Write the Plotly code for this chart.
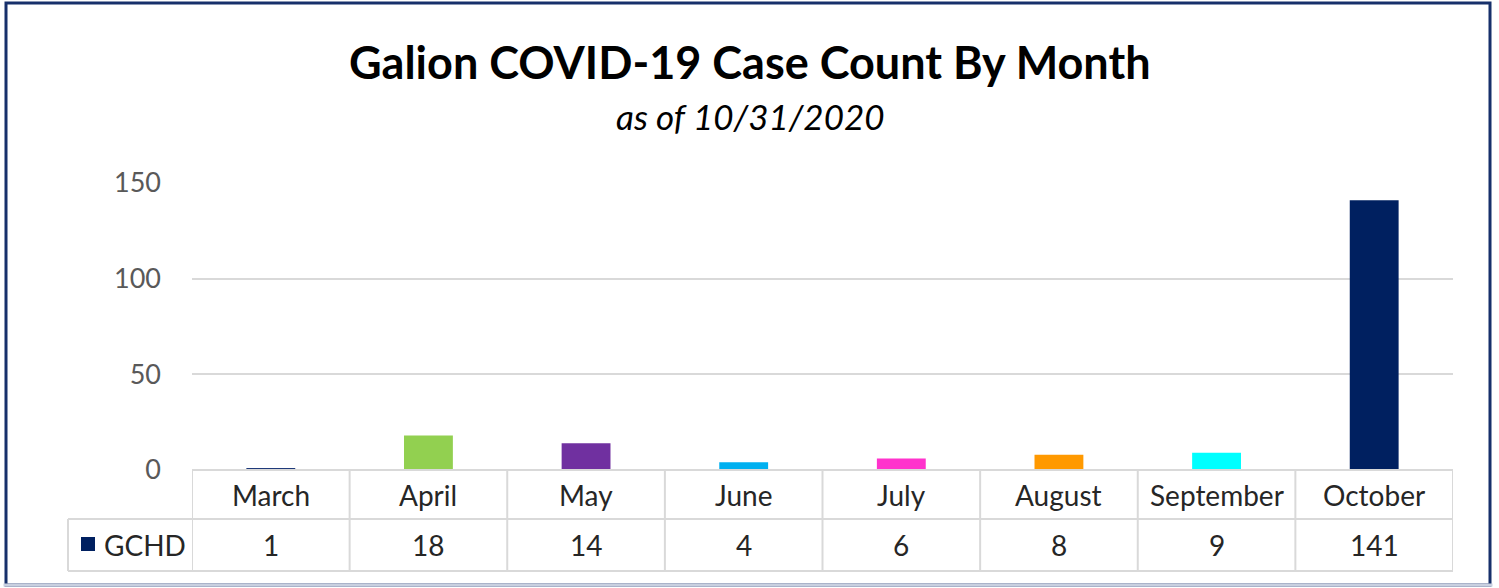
import plotly.graph_objects as go

months = ["March", "April", "May", "June", "July", "August", "September", "October"]
cases = [1, 18, 14, 4, 6, 8, 9, 141]
bar_colors = ["#1F3A7A", "#92D050", "#7030A0", "#00B0F0", "#FF33CC", "#FF9900", "#00FFFF", "#002060"]
y_ticks = [0, 50, 100, 150]
series_name = "GCHD"

FONT = "Lato, 'Open Sans', sans-serif"
GRID = "#d9d9d9"
TEXT = "#262626"

# pixel layout helpers (plot area in the 1499x588 page)
W, H = 1499, 588
L, R, T, B = 192, 46, 183, 118
pw, ph = W - L - R, H - T - B


def px_x(x):
    return (x - L) / pw


def px_y(y):
    return (H - B - y) / ph


fig = go.Figure()
fig.add_trace(
    go.Bar(
        x=months,
        y=cases,
        marker=dict(color=bar_colors, line=dict(width=0)),
        width=0.31,
        showlegend=False,
        hovertemplate="%{x}: %{y}<extra></extra>",
    )
)

row1_y = px_y(495)
row2_y = px_y(545)
line1_y = px_y(519)
line2_y = px_y(571)
left_x = px_x(68)

shapes = []
# table grid
shapes.append(dict(type="line", xref="paper", yref="paper", x0=0, x1=1, y0=0, y1=0,
                   line=dict(color=GRID, width=2)))
for yy in (line1_y, line2_y):
    shapes.append(dict(type="line", xref="paper", yref="paper", x0=left_x, x1=1, y0=yy, y1=yy,
                       line=dict(color=GRID, width=2)))
shapes.append(dict(type="line", xref="paper", yref="paper", x0=left_x, x1=left_x, y0=line1_y, y1=line2_y,
                   line=dict(color=GRID, width=2)))
for i in range(len(months) + 1):
    shapes.append(dict(type="line", xref="x", yref="paper", x0=i - 0.5, x1=i - 0.5, y0=0, y1=line2_y,
                       line=dict(color=GRID, width=2)))

# legend key square
shapes.append(dict(type="rect", xref="paper", yref="paper", x0=px_x(81), x1=px_x(95),
                   y0=px_y(551), y1=px_y(537), fillcolor="#002060", line=dict(width=0)))

# outer frame
fx0, fx1 = px_x(6), px_x(1490)
fy0, fy1 = px_y(585), px_y(3)
shapes.append(dict(type="rect", xref="paper", yref="paper", x0=fx0, x1=fx1, y0=fy0, y1=fy1,
                   line=dict(color="#17306b", width=3), layer="below"))
shapes.append(dict(type="line", xref="paper", yref="paper", x0=fx0 - 0.002, x1=fx1 + 0.002, y0=fy0, y1=fy0,
                   line=dict(color="#c9d0e0", width=3)))

annotations = []
for m, v in zip(months, cases):
    annotations.append(dict(x=m, y=row1_y, xref="x", yref="paper", yanchor="middle", text=m,
                            showarrow=False, font=dict(family=FONT, size=28, color=TEXT)))
    annotations.append(dict(x=m, y=row2_y, xref="x", yref="paper", yanchor="middle", text=str(v),
                            showarrow=False, font=dict(family=FONT, size=28, color=TEXT)))
annotations.append(dict(x=px_x(102), y=row2_y, xref="paper", yref="paper", xanchor="left", yanchor="middle",
                        text=series_name, showarrow=False,
                        font=dict(family=FONT, size=28, color=TEXT)))
annotations.append(dict(x=px_x(750), y=px_y(62), xref="paper", yref="paper", yanchor="middle",
                        text="<b>Galion COVID-19 Case Count By Month</b>", showarrow=False,
                        font=dict(family=FONT, size=45, color="#000000")))
annotations.append(dict(x=px_x(750), y=px_y(116), xref="paper", yref="paper", yanchor="middle",
                        text="<i>as of 10/31/2020</i>", showarrow=False,
                        font=dict(family=FONT, size=35, color="#000000")))

fig.update_layout(
    width=W,
    height=H,
    margin=dict(l=L, r=R, t=T, b=B, pad=0),
    plot_bgcolor="#ffffff",
    paper_bgcolor="#ffffff",
    shapes=shapes,
    annotations=annotations,
    xaxis=dict(
        range=[-0.5, len(months) - 0.5],
        showticklabels=False,
        showgrid=False,
        zeroline=False,
        showline=False,
        ticks="",
    ),
    yaxis=dict(
        range=[0, 150],
        tickvals=y_ticks,
        showgrid=True,
        gridcolor=GRID,
        gridwidth=2,
        zeroline=False,
        showline=False,
        ticks="",
        ticklabelstandoff=30,
        tickfont=dict(family=FONT, size=27, color="#595959"),
    ),
)

fig.write_html(
    "out.html",
    config={"displayModeBar": False},
    post_script="document.body.style.margin='0';",
)
